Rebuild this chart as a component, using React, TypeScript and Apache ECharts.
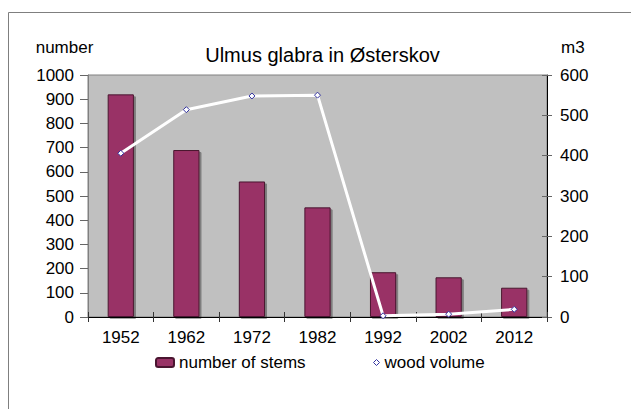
import React, { useEffect, useRef } from "react";
import * as echarts from "echarts";

const years = ["1952", "1962", "1972", "1982", "1992", "2002", "2012"];
const stems = [920, 690, 560, 453, 185, 164, 121];
const volume = [406, 514, 548, 550, 3, 7, 19];

const FONT = "'Liberation Sans', Arial, sans-serif";
const FS = 17;

export default function App() {
  const ref = useRef<HTMLDivElement>(null);
  useEffect(() => {
    if (!ref.current) return;
    const chart = echarts.init(ref.current, null, { renderer: "svg" });
    chart.setOption({
      animation: false,
      backgroundColor: "#ffffff",
      textStyle: { fontFamily: FONT },
      title: {
        text: "Ulmus glabra in Østerskov",
        left: 317.5,
        textAlign: "center",
        top: 40,
        textStyle: { fontFamily: FONT, fontSize: 20, fontWeight: "normal", color: "#000" },
      },
      grid: {
        left: 88,
        right: 84,
        top: 75,
        bottom: 92,
        show: true,
        backgroundColor: "#c0c0c0",
        borderColor: "#808080",
        borderWidth: 1,
      },
      legend: [
        {
          data: [{ name: "number of stems" }],
          left: 150,
          top: 349,
          itemWidth: 18,
          itemHeight: 9,
          textStyle: { fontFamily: FONT, fontSize: FS, color: "#000" },
        },
        {
          data: [
            {
              name: "wood volume",
              icon: "diamond",
              itemStyle: { color: "#ffffff", borderColor: "#3333a0", borderWidth: 1 },
            },
          ],
          left: 368,
          top: 349,
          itemWidth: 6,
          itemHeight: 6,
          textStyle: { fontFamily: FONT, fontSize: FS, color: "#000" },
        },
      ],
      graphic: [
        {
          type: "rect",
          shape: { x: 8.5, y: 12.5, width: 700, height: 500 },
          style: { fill: "none", stroke: "#7f7f7f", lineWidth: 1 },
          silent: true,
        },
        {
          type: "text",
          x: 64.5,
          y: 47,
          style: {
            text: "number",
            fontFamily: FONT,
            fontSize: FS,
            fill: "#000",
            align: "center",
            verticalAlign: "middle",
          },
        },
        {
          type: "text",
          x: 561,
          y: 47,
          style: {
            text: "m3",
            fontFamily: FONT,
            fontSize: FS,
            fill: "#000",
            align: "left",
            verticalAlign: "middle",
          },
        },
      ],
      xAxis: [
        {
          type: "category",
          data: years,
          position: "bottom",
          axisLine: { show: true, lineStyle: { color: "#000", width: 1 } },
          axisTick: { show: true, length: 5, inside: false, lineStyle: { color: "#333" } },
          axisLabel: { fontFamily: FONT, fontSize: FS, color: "#000", margin: 12 },
          splitLine: { show: false },
        },
        {
          type: "category",
          data: years,
          position: "bottom",
          axisLine: { show: false },
          axisTick: { show: true, length: 5, inside: true, lineStyle: { color: "#333" } },
          axisLabel: { show: false },
          splitLine: { show: false },
        },
      ],
      yAxis: [
        {
          type: "value",
          min: 0,
          max: 1000,
          interval: 100,
          position: "left",
          axisLine: { show: true, lineStyle: { color: "#808080" } },
          axisTick: { show: true, length: 8, lineStyle: { color: "#666" } },
          axisLabel: {
            fontFamily: FONT,
            fontSize: FS,
            color: "#000",
            margin: 14,
            formatter: (v: number) => String(v),
          },
          splitLine: { show: false },
        },
        {
          type: "value",
          min: 0,
          max: 600,
          interval: 100,
          position: "right",
          axisLine: { show: true, lineStyle: { color: "#000" } },
          axisTick: { show: true, length: 5, inside: false, lineStyle: { color: "#666" } },
          axisLabel: {
            fontFamily: FONT,
            fontSize: FS,
            color: "#000",
            margin: 13,
            formatter: (v: number) => String(v),
          },
          splitLine: { show: false },
        },
        {
          type: "value",
          min: 0,
          max: 600,
          interval: 100,
          position: "right",
          axisLine: { show: false },
          axisTick: { show: true, length: 5, inside: true, lineStyle: { color: "#666" } },
          axisLabel: { show: false },
          splitLine: { show: false },
        },
      ],
      series: [
        {
          name: "number of stems",
          type: "bar",
          data: stems,
          xAxisIndex: 0,
          yAxisIndex: 0,
          barWidth: "40%",
          itemStyle: {
            color: "#993366",
            borderColor: "#4a1530",
            borderWidth: 1,
            shadowColor: "rgba(0,0,0,0.35)",
            shadowBlur: 0,
            shadowOffsetX: 2,
            shadowOffsetY: 2,
          },
        },
        {
          name: "wood volume",
          type: "line",
          data: volume,
          xAxisIndex: 0,
          yAxisIndex: 1,
          symbol: "diamond",
          symbolSize: 6,
          showSymbol: true,
          lineStyle: { color: "#ffffff", width: 3 },
          itemStyle: { color: "#ffffff", borderColor: "#3333a0", borderWidth: 1 },
          z: 5,
        },
      ],
    });
    return () => chart.dispose();
  }, []);
  return (
    <div
      ref={ref}
      style={{ position: "absolute", left: 0, top: 0, width: 631, height: 409 }}
    />
  );
}
